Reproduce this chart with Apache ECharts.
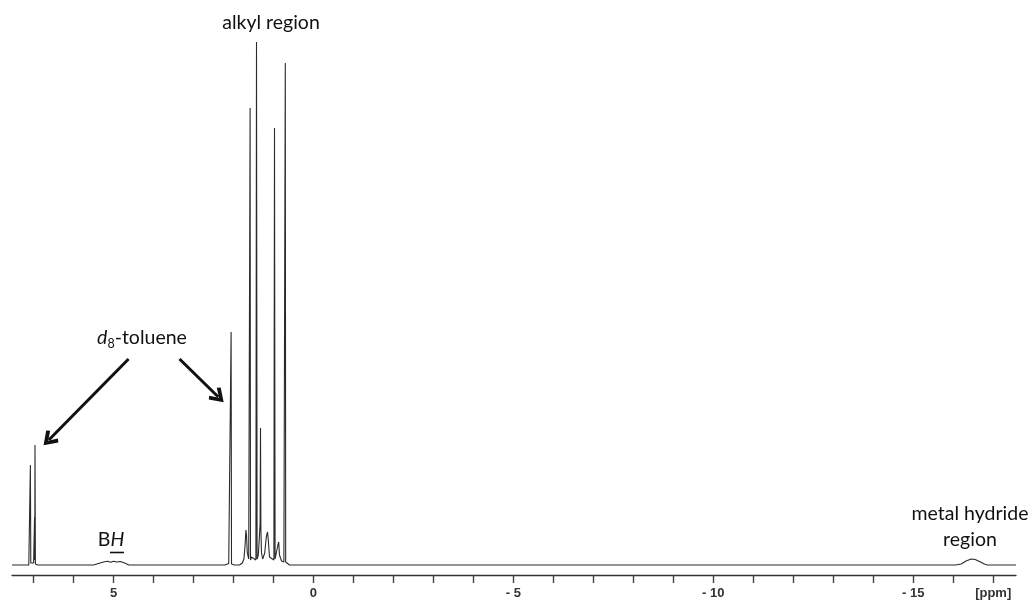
<!DOCTYPE html>
<html>
<head>
<meta charset="utf-8">
<script src="https://cdn.jsdelivr.net/npm/echarts@6/dist/echarts.min.js"></script>
<style>
html,body{margin:0;padding:0;background:#fff;}
#chart{width:1033px;height:602px;}
</style>
</head>
<body>
<div id="chart"></div>
<script>
// Axis ticks (ppm)
const tickValues = [7,6,5,4,3,2,1,0,-1,-2,-3,-4,-5,-6,-7,-8,-9,-10,-11,-12,-13,-14,-15,-16,-17];
const labelValues = [5,0,-5,-10,-15,-17];

// Spectrum: [ppm, intensity]
const spectrum = [
  [7.54,0],[7.20,0],[7.15,1],[7.12,0],[7.09,0],[7.08,100],[7.07,2],[7.00,2],[6.985,3],
  [6.975,48],[6.97,5],[6.965,120],[6.955,1],[6.92,2],[6.90,0],
  [5.50,0],[5.38,1.5],[5.25,3],[5.15,3.8],[5.07,2.8],[5.0,3.8],[4.92,3],[4.83,3.5],[4.72,2],[4.62,0],
  [2.22,0],[2.12,1.5],[2.09,0],[2.07,0],[2.06,233],[2.05,1],[2.02,3],[1.98,0],
  [1.85,0],[1.78,2],[1.74,6],[1.71,20],[1.69,35],[1.675,30],[1.655,12],[1.62,6],[1.595,4],
  [1.585,457],[1.575,5],[1.55,8],[1.50,6],[1.44,5],[1.425,523],[1.41,6],[1.38,10],[1.35,30],
  [1.335,42],[1.325,137],[1.315,35],[1.30,12],[1.27,6],[1.22,12],[1.18,28],[1.15,33],[1.13,25],
  [1.10,8],[1.05,6],[0.99,5],[0.975,437],[0.96,6],[0.92,8],[0.89,20],[0.87,23],[0.85,10],
  [0.80,4],[0.74,3],[0.705,502],[0.695,3],[0.66,2],[0.60,0],[0.09,0],[0.07,2],[0.05,0],
  [-16.05,0],[-16.2,1],[-16.32,4],[-16.45,6],[-16.55,5.5],[-16.68,3],[-16.78,1],[-16.85,0],[-17.57,0]
];

// Arrow annotations: [start ppm, start intensity, end ppm, end intensity]
const arrows = [
  [4.625, 206, 6.62, 125],
  [3.35, 206, 2.38, 168]
];

const chart = echarts.init(document.getElementById('chart'));
const chevron = 'path://M5,0 L10,8 L8.2,9.6 L5,4.2 L1.8,9.6 L0,8 Z';
const FONT = 'Lato, sans-serif';

chart.setOption({
  animation: false,
  backgroundColor: '#fff',
  grid: {left: 12, right: 17, top: 30, bottom: 27},
  xAxis: {
    type: 'value',
    inverse: true,
    min: -17.57,
    max: 7.54,
    splitLine: {show: false},
    axisLine: {show: true, onZero: false, lineStyle: {color: '#333', width: 1.3}},
    axisTick: {show: true, customValues: tickValues, length: 8, lineStyle: {color: '#444', width: 1.4}},
    axisLabel: {
      customValues: labelValues,
      margin: 12,
      fontFamily: 'Liberation Sans, Arial, sans-serif',
      fontSize: 13,
      fontWeight: 'bold',
      color: '#333',
      formatter: function (v) {
        if (v === -17) return '[ppm]';
        if (v < 0) return '- ' + Math.abs(v);
        return String(v);
      }
    }
  },
  yAxis: {
    type: 'value',
    min: -10,
    max: 535,
    show: false
  },
  series: [
    {
      type: 'line',
      data: spectrum,
      showSymbol: false,
      sampling: 'none',
      lineStyle: {color: '#2a2a2a', width: 1.1},
      silent: true,
      markLine: {
        silent: true,
        symbol: ['none', chevron],
        symbolSize: [17, 15],
        lineStyle: {color: '#111', width: 3, type: 'solid'},
        label: {show: false},
        data: arrows.map(a => [{coord: [a[0], a[1]]}, {coord: [a[2], a[3]]}])
      }
    }
  ],
  graphic: [
    {type: 'text', style: {x: 271, y: 23, text: 'alkyl region', font: '19.5px ' + FONT, fill: '#111', textAlign: 'center', textVerticalAlign: 'middle'}},
    {type: 'text', style: {
      x: 142, y: 338, textAlign: 'center', textVerticalAlign: 'middle',
      text: '{i|d}{s|8}{n|-toluene}',
      rich: {
        i: {fontFamily: FONT, fontSize: 19.5, fontStyle: 'italic', fill: '#111'},
        s: {fontFamily: FONT, fontSize: 12.5, fill: '#111', padding: [11, 0, 0, 0], verticalAlign: 'bottom'},
        n: {fontFamily: FONT, fontSize: 19.5, fill: '#111'}
      }
    }},
    {type: 'text', style: {
      x: 111, y: 540, textAlign: 'center', textVerticalAlign: 'middle',
      text: '{n|B}{i|H}',
      rich: {
        n: {fontFamily: FONT, fontSize: 19.5, fill: '#111'},
        i: {fontFamily: FONT, fontSize: 19.5, fontStyle: 'italic', fill: '#111'}
      }
    }},
    {type: 'line', shape: {x1: 110, y1: 552.5, x2: 124, y2: 552.5}, style: {stroke: '#111', lineWidth: 1.6}},
    {type: 'text', style: {x: 970, y: 514, text: 'metal hydride', font: '19.5px ' + FONT, fill: '#111', textAlign: 'center', textVerticalAlign: 'middle'}},
    {type: 'text', style: {x: 970, y: 540, text: 'region', font: '19.5px ' + FONT, fill: '#111', textAlign: 'center', textVerticalAlign: 'middle'}}
  ]
});
</script>
</body>
</html>
